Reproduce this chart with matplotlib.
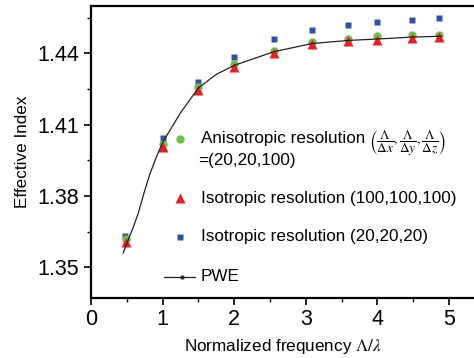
import matplotlib
matplotlib.use('Agg')
import matplotlib.pyplot as plt

plt.rcParams['font.family'] = ['Liberation Sans', 'DejaVu Sans']
plt.rcParams['mathtext.fontset'] = 'stix'

# ---- data ----
freq = [0.49, 1.0, 1.5, 2.0, 2.56, 3.09, 3.59, 4.0, 4.48, 4.86]
aniso = [1.3617, 1.4020, 1.4257, 1.4355, 1.4412, 1.4449, 1.4461, 1.4473, 1.4478, 1.4478]
iso100 = [1.3606, 1.4008, 1.4245, 1.4343, 1.4400, 1.4441, 1.4453, 1.4457, 1.4465, 1.4469]
iso20 = [1.3633, 1.4045, 1.4278, 1.4384, 1.4461, 1.4498, 1.4518, 1.4531, 1.4539, 1.4551]
blue_x = [0.475, 1.0, 1.5, 2.0, 2.56, 3.09, 3.59, 4.0, 4.48, 4.86]

pwe_x = [0.45, 0.5, 0.58, 0.66, 0.74, 0.82, 0.91, 1.0, 1.25, 1.5, 1.75, 2.0, 2.56,
         3.09, 3.59, 4.0, 4.48, 4.9]
pwe_y = [1.3560, 1.3600, 1.3660, 1.3727, 1.3812, 1.3890, 1.3962, 1.4025, 1.4150,
         1.4255, 1.4312, 1.4350, 1.4408, 1.4442, 1.4455, 1.4461, 1.4469, 1.4473]

labels = [
    'Anisotropic resolution',
    'Isotropic resolution (100,100,100)',
    'Isotropic resolution (20,20,20)',
    'PWE',
]
aniso_math = (r'$\left(\dfrac{\Lambda}{\Delta x},\dfrac{\Lambda}{\Delta y},'
              r'\dfrac{\Lambda}{\Delta z}\right)$')
aniso_note = '=(20,20,100)'

C_GREEN = '#6cc04a'
C_RED = '#ee1c25'
C_BLUE = '#2f52a8'
FS_LEG = 12.3

fig = plt.figure(figsize=(4.74, 3.58), dpi=100)
ax = fig.add_axes([0.192, 0.1676, 0.808, 0.8156])

ax.plot(blue_x, iso20, 's', color=C_BLUE, ms=5, mec='none', zorder=3)
ax.plot(freq, aniso, 'o', color=C_GREEN, ms=6, mec='none', zorder=4)
ax.plot(freq, iso100, '^', color=C_RED, ms=6.5, mec='none', zorder=5)
ax.plot(pwe_x, pwe_y, '-', color='#222222', lw=0.9, zorder=6)

ax.set_xlim(0, 5.35)
ax.set_ylim(1.337, 1.46)
ax.set_xticks([0, 1, 2, 3, 4, 5])
ax.set_xticks([0.5, 1.5, 2.5, 3.5, 4.5], minor=True)
ax.set_yticks([1.35, 1.38, 1.41, 1.44])
ax.set_yticks([1.365, 1.395, 1.425, 1.455], minor=True)
ax.set_yticklabels(['1.35', '1.38', '1.41', '1.44'])
ax.tick_params(which='major', direction='out', length=5, width=1.2, labelsize=15.5)
ax.tick_params(which='minor', direction='out', length=3, width=1.0)
ax.tick_params(axis='x', pad=3)

ax.spines['right'].set_visible(False)
for side in ('left', 'bottom', 'top'):
    ax.spines[side].set_linewidth(1.6)

ax.set_xlabel(r'Normalized frequency $\Lambda/\lambda$', fontsize=12.3, labelpad=5)
ax.set_ylabel('Effective Index', fontsize=12.3, labelpad=5)

# ---- legend drawn by hand (marker aligned to first text line) ----
tr = ax.transAxes
mx, tx = 0.232, 0.287
rows = [0.545, 0.342, 0.209, 0.072]
ax.plot([mx], [rows[0]], 'o', color=C_GREEN, ms=6, mec='none', transform=tr, clip_on=False)
ax.plot([mx], [rows[1]], '^', color=C_RED, ms=7, mec='none', transform=tr, clip_on=False)
ax.plot([mx], [rows[2]], 's', color=C_BLUE, ms=5, mec='none', transform=tr, clip_on=False)
ax.plot([0.191, 0.272], [rows[3], rows[3]], '-', color='#222222', lw=0.9,
        transform=tr, clip_on=False)
ax.plot([0.237], [rows[3]], '.', color='#222222', ms=4, transform=tr, clip_on=False)
texts = [ax.text(tx, y, lab, transform=tr, fontsize=FS_LEG, va='center', ha='left')
         for y, lab in zip(rows, labels)]
ax.text(tx - 0.008, 0.47, aniso_note, transform=tr, fontsize=FS_LEG,
        va='center', ha='left')

# place the fraction group right after the first label
fig.canvas.draw()
bb = texts[0].get_window_extent().transformed(ax.transAxes.inverted())
ax.text(bb.x1 + 0.01, 0.53, aniso_math, transform=tr, fontsize=9.5,
        va='center', ha='left')

fig.savefig('out.png', dpi=100)
